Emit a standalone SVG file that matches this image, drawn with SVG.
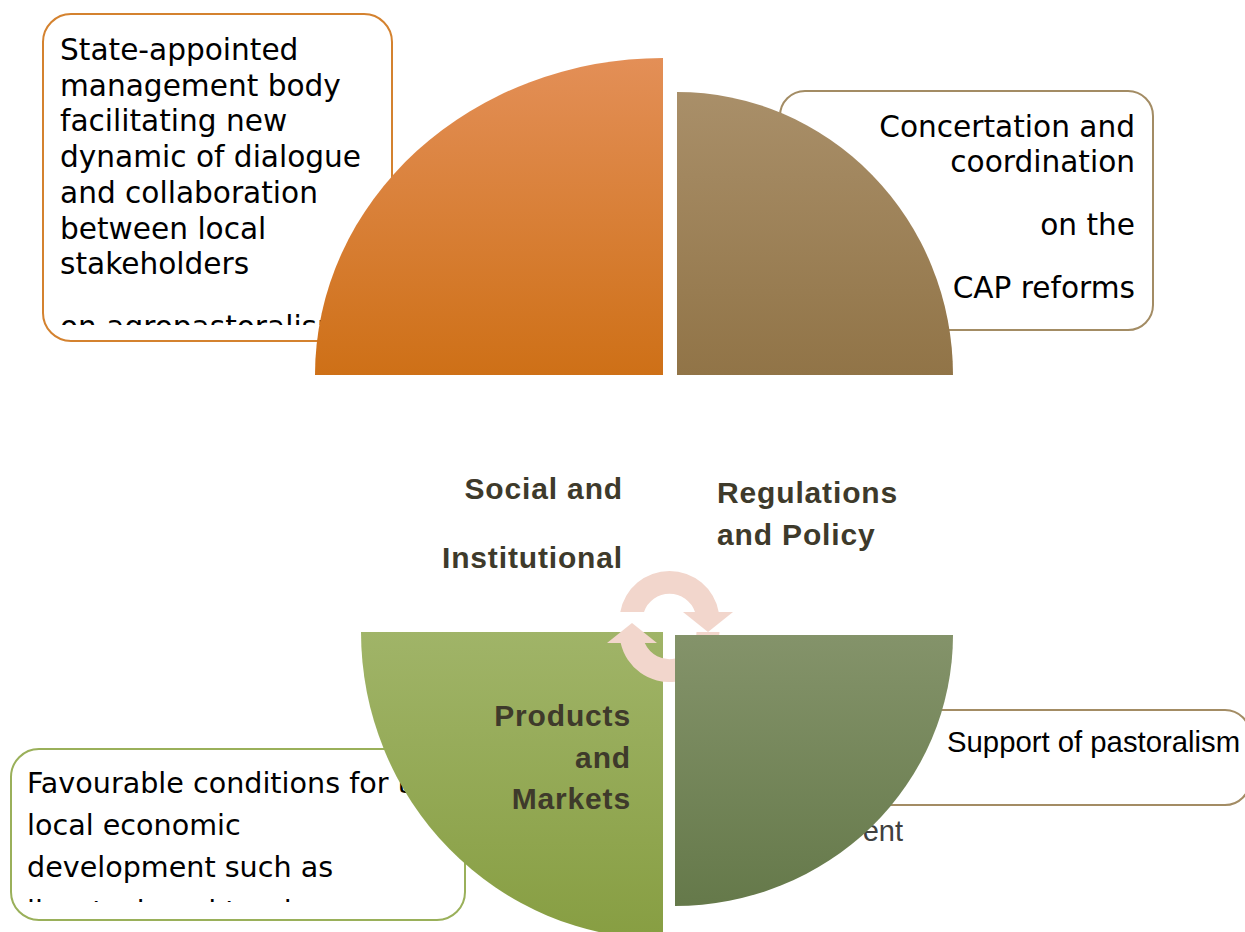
<svg xmlns="http://www.w3.org/2000/svg" width="1245" height="932" viewBox="0 0 1245 932">
  <defs>
    <linearGradient id="gOrange" x1="0" y1="0" x2="0" y2="1">
      <stop offset="0" stop-color="#E38F57"/>
      <stop offset="1" stop-color="#CE7017"/>
    </linearGradient>
    <linearGradient id="gBrown" x1="0" y1="0" x2="0" y2="1">
      <stop offset="0" stop-color="#A98F69"/>
      <stop offset="1" stop-color="#917447"/>
    </linearGradient>
    <linearGradient id="gLight" x1="0" y1="0" x2="0" y2="1">
      <stop offset="0" stop-color="#A0B468"/>
      <stop offset="1" stop-color="#879E42"/>
    </linearGradient>
    <linearGradient id="gDark" x1="0" y1="0" x2="0" y2="1">
      <stop offset="0" stop-color="#84936A"/>
      <stop offset="1" stop-color="#65794A"/>
    </linearGradient>
    <clipPath id="clipTL">
      <rect x="43" y="14" width="349" height="311"/>
    </clipPath>
    <clipPath id="clipBL">
      <rect x="11" y="749" width="454" height="153"/>
    </clipPath>
    <style>
      .box { fill: #FFFFFF; stroke-width: 2; }
      .body { font-family: "DejaVu Sans", sans-serif; font-size: 29.6px; fill: #000000; }
      .body2 { font-family: "DejaVu Sans", sans-serif; font-size: 28.6px; fill: #000000; }
      .lbl { font-family: "Liberation Sans", Arial, sans-serif; font-size: 30px; font-weight: bold; fill: #3E3A2B; letter-spacing: 0.85px; }
      .arr { fill: #F2D6CC; }
    </style>
  </defs>
  <rect width="1245" height="932" fill="#FFFFFF"/>

  <g id="box-top-left">
    <rect class="box" x="43" y="14" width="349" height="327" rx="28" stroke="#D4822F"/>
    <g clip-path="url(#clipTL)">
      <text class="body" x="60" y="60">State-appointed</text>
      <text class="body" x="60" y="95.5">management body</text>
      <text class="body" x="60" y="131">facilitating new</text>
      <text class="body" x="60" y="167">dynamic of dialogue</text>
      <text class="body" x="60" y="203">and collaboration</text>
      <text class="body" x="60" y="238.5">between local</text>
      <text class="body" x="60" y="274">stakeholders</text>
      <text class="body" x="60" y="337">on agropastoralism</text>
    </g>
  </g>

  <g id="box-top-right">
    <rect class="box" x="780" y="91" width="373" height="239" rx="25" stroke="#A38C64"/>
    <text class="body" x="1135" y="137" text-anchor="end">Concertation and</text>
    <text class="body" x="1135" y="172" text-anchor="end">coordination</text>
    <text class="body" x="1135" y="235" text-anchor="end">on the</text>
    <text class="body" x="1135" y="298" text-anchor="end">CAP reforms</text>
  </g>

  <g id="box-bottom-left">
    <rect class="box" x="11" y="749" width="454" height="171" rx="28" stroke="#9AB05A"/>
    <g clip-path="url(#clipBL)">
      <text class="body2" x="27" y="793">Favourable conditions for the</text>
      <text class="body2" x="27" y="835">local economic</text>
      <text class="body2" x="27" y="877">development such as</text>
      <text class="body2" x="27" y="921">livestock and tourism</text>
    </g>
  </g>

  <g id="box-bottom-right">
    <rect class="box" x="700" y="710" width="550" height="95" rx="25" stroke="#A38C64"/>
    <text x="947" y="752" font-family="Liberation Sans, Arial, sans-serif" font-size="29.3" fill="#000000">Support of pastoralism</text>
    <text x="903" y="841" text-anchor="end" font-family="Liberation Sans, Arial, sans-serif" font-size="29" fill="#404040">ent</text>
  </g>

  <g id="quadrant-social">
    <path d="M663,375 L663,58 A348,317 0 0 0 315,375 Z" fill="url(#gOrange)"/>
  </g>
  <g id="quadrant-regulations">
    <path d="M677,375 L677,92 A276,283 0 0 1 953,375 Z" fill="url(#gBrown)"/>
  </g>
  <g id="quadrant-products">
    <path d="M663,632 L361,632 A302,307 0 0 0 663,939 Z" fill="url(#gLight)"/>
  </g>

  <g id="connectors">
    <path class="arr" d="M620.3,612 A50,50 0 0 1 718.7,612 L733,612 L708,632 L683,612 L695,612 A27,27 0 0 0 644,612 Z"/>
    <path class="arr" d="M719.5,632 A50,50 0 0 1 620.7,643 L607,643 L632,623 L657,643 L644.8,643 A27,27 0 0 0 696.5,632 Z"/>
  </g>

  <g id="quadrant-environment">
    <path d="M675,635 L953,635 A278,271 0 0 1 675,906 Z" fill="url(#gDark)"/>
  </g>

  <g id="labels">
    <text class="lbl" x="623" y="499" text-anchor="end">Social and</text>
    <text class="lbl" x="623" y="568" text-anchor="end">Institutional</text>
    <text class="lbl" x="717" y="503">Regulations</text>
    <text class="lbl" x="717" y="545">and Policy</text>
    <text class="lbl" x="631" y="726" text-anchor="end">Products</text>
    <text class="lbl" x="631" y="768" text-anchor="end">and</text>
    <text class="lbl" x="631" y="809" text-anchor="end">Markets</text>
  </g>
</svg>
